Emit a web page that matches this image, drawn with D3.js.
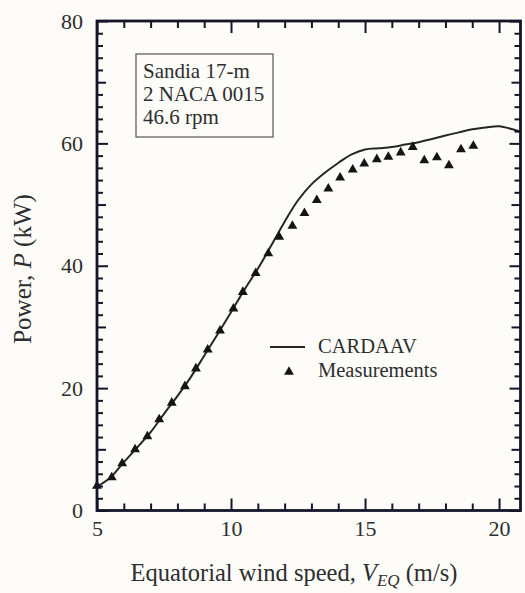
<!DOCTYPE html>
<html>
<head>
<meta charset="utf-8">
<script src="https://cdn.jsdelivr.net/npm/d3@7/dist/d3.min.js"></script>
<style>
  html, body { margin: 0; padding: 0; background: #fdfcf8; }
  svg { display: block; }
  text { font-family: "Liberation Serif", "Times New Roman", serif; fill: #2e2e2e; }
</style>
</head>
<body>
<div id="chart"></div>
<script>
// CARDAAV prediction (wind speed m/s, power kW)
var curveSpeed = [5.0, 5.5, 6.0, 6.5, 7.0, 7.5, 8.0, 8.5, 9.0, 9.5, 10.0, 10.5, 11.0, 11.5, 12.0, 12.5,
  13.0, 13.5, 14.0, 14.5, 15.0, 15.5, 16.0, 16.5, 17.0, 17.5, 18.0, 18.5, 19.0, 19.5, 20.0, 20.5, 20.8];
var curvePower = [3.9, 5.4, 7.9, 10.3, 12.8, 15.8, 18.7, 21.8, 25.3, 28.8, 32.4, 36.1, 39.5, 43.3, 47.2, 50.7,
  53.3, 55.2, 56.8, 58.2, 59.0, 59.2, 59.4, 59.8, 60.2, 60.7, 61.3, 61.8, 62.3, 62.6, 62.8, 62.3, 61.9];

// measured points
var measSpeed = [5.0, 5.55, 5.94, 6.42, 6.88, 7.32, 7.79, 8.28, 8.69, 9.13, 9.59, 10.09, 10.44, 10.92, 11.39, 11.80,
  12.29, 12.74, 13.2, 13.63, 14.07, 14.54, 14.97, 15.44, 15.87, 16.33, 16.78, 17.21, 17.68, 18.13, 18.58, 19.04];
var measPower = [4.0, 5.4, 7.7, 10.0, 12.1, 14.9, 17.6, 20.3, 23.2, 26.3, 29.4, 33.0, 35.7, 38.8, 42.0, 44.7,
  46.5, 48.6, 50.7, 52.6, 54.4, 55.7, 56.7, 57.4, 57.8, 58.5, 59.4, 57.2, 57.7, 56.4, 59.0, 59.6];

var xMajor = [5, 10, 15, 20];
var xMinor = d3.range(6, 21, 1).filter(function (v) { return v % 5 !== 0; });
var yMajor = [0, 20, 40, 60, 80];
var yMid = [10, 30, 50, 70];
var yMinor = d3.range(2, 80, 2).filter(function (v) { return v % 10 !== 0; });

var infoLines = ['Sandia 17-m', '2 NACA 0015', '46.6 rpm'];

var W = 525, H = 593;
var svg = d3.select('#chart').append('svg').attr('width', W).attr('height', H);

var x = d3.scaleLinear().domain([5, 20.8]).range([97, 520.5]);
var y = d3.scaleLinear().domain([0, 80]).range([510.5, 21]);

var axisColor = '#15152a';

// clip for the plot area
svg.append('clipPath').attr('id', 'plot-clip')
  .append('rect').attr('x', x(5)).attr('y', y(80)).attr('width', x(20.8) - x(5)).attr('height', y(0) - y(80));

// curve
var curveData = curveSpeed.map(function (s, i) { return [s, curvePower[i]]; });
svg.append('path')
  .datum(curveData)
  .attr('clip-path', 'url(#plot-clip)')
  .attr('fill', 'none')
  .attr('stroke', '#262626')
  .attr('stroke-width', 2)
  .attr('d', d3.line()
    .x(function (d) { return x(d[0]); })
    .y(function (d) { return y(d[1]); })
    .curve(d3.curveCatmullRom.alpha(0.5)));

// measurements
var tri = d3.symbol().type(d3.symbolTriangle).size(42);
svg.append('g').selectAll('path')
  .data(measSpeed.map(function (s, i) { return [s, measPower[i]]; }))
  .enter().append('path')
  .attr('d', tri)
  .attr('fill', '#151515')
  .attr('transform', function (d) { return 'translate(' + x(d[0]) + ',' + y(d[1]) + ')'; });

// axes, ticks pointing inward
function styleAxis(g) {
  g.select('.domain').remove();
  g.selectAll('line').attr('stroke', axisColor).attr('stroke-width', 2);
  g.selectAll('text').attr('font-size', 22).attr('fill', '#333');
}

var axBottom = svg.append('g').attr('transform', 'translate(0,' + y(0) + ')');
axBottom.call(d3.axisBottom(x).tickValues(xMajor).tickSize(-12).tickPadding(10).tickFormat(d3.format('d'))).call(styleAxis);
axBottom.append('g').call(d3.axisBottom(x).tickValues(xMinor).tickSize(-7).tickFormat('')).call(styleAxis);

var axTop = svg.append('g').attr('transform', 'translate(0,' + y(80) + ')');
axTop.call(d3.axisTop(x).tickValues(xMajor).tickSize(-12).tickFormat('')).call(styleAxis);
axTop.append('g').call(d3.axisTop(x).tickValues(xMinor).tickSize(-7).tickFormat('')).call(styleAxis);

var axLeft = svg.append('g').attr('transform', 'translate(' + x(5) + ',0)');
axLeft.call(d3.axisLeft(y).tickValues(yMajor).tickSize(-11).tickPadding(14).tickFormat(d3.format('d'))).call(styleAxis);
axLeft.append('g').call(d3.axisLeft(y).tickValues(yMid).tickSize(-9).tickFormat('')).call(styleAxis);
axLeft.append('g').call(d3.axisLeft(y).tickValues(yMinor).tickSize(-6).tickFormat('')).call(styleAxis);

var axRight = svg.append('g').attr('transform', 'translate(' + x(20.8) + ',0)');
axRight.call(d3.axisRight(y).tickValues(yMajor).tickSize(-11).tickFormat('')).call(styleAxis);
axRight.append('g').call(d3.axisRight(y).tickValues(yMid).tickSize(-9).tickFormat('')).call(styleAxis);
axRight.append('g').call(d3.axisRight(y).tickValues(yMinor).tickSize(-6).tickFormat('')).call(styleAxis);

// frame
svg.append('rect')
  .attr('x', x(5)).attr('y', y(80))
  .attr('width', x(20.8) - x(5)).attr('height', y(0) - y(80))
  .attr('fill', 'none').attr('stroke', axisColor).attr('stroke-width', 2.8);

// info box
svg.append('rect')
  .attr('x', 136).attr('y', 54).attr('width', 137).attr('height', 83)
  .attr('fill', 'none').attr('stroke', '#555').attr('stroke-width', 1.2);
svg.append('g').selectAll('text')
  .data(infoLines)
  .enter().append('text')
  .attr('x', 143)
  .attr('y', function (d, i) { return 78 + i * 23; })
  .attr('font-size', 21)
  .text(function (d) { return d; });

// legend
var legend = svg.append('g');
legend.append('line')
  .attr('x1', 270).attr('x2', 305).attr('y1', 347).attr('y2', 347)
  .attr('stroke', '#262626').attr('stroke-width', 2);
legend.append('text').attr('x', 318).attr('y', 353).attr('font-size', 20.5).text('CARDAAV');
legend.append('path').attr('d', tri).attr('fill', '#151515').attr('transform', 'translate(289,372)');
legend.append('text').attr('x', 318).attr('y', 377).attr('font-size', 20.5).text('Measurements');

// axis titles
var xt = svg.append('text')
  .attr('x', 294).attr('y', 581)
  .attr('text-anchor', 'middle')
  .attr('font-size', 24.5);
xt.append('tspan').text('Equatorial wind speed, ');
xt.append('tspan').attr('font-style', 'italic').text('V');
xt.append('tspan').attr('font-style', 'italic').attr('font-size', 17).attr('dy', 5).text('EQ');
xt.append('tspan').attr('dy', -5).text(' (m/s)');

var yt = svg.append('text')
  .attr('transform', 'translate(31,269) rotate(-90)')
  .attr('text-anchor', 'middle')
  .attr('font-size', 25);
yt.append('tspan').text('Power, ');
yt.append('tspan').attr('font-style', 'italic').text('P');
yt.append('tspan').text(' (kW)');
</script>
</body>
</html>
